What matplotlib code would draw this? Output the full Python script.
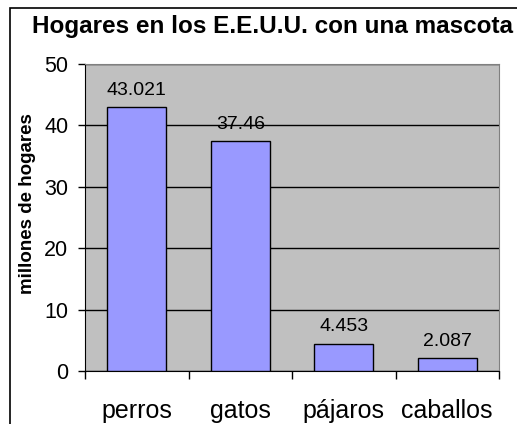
import matplotlib.pyplot as plt
from matplotlib.patches import Rectangle

plt.rcParams['font.family'] = ['Liberation Sans', 'DejaVu Sans']

# Datos
categorias = ['perros', 'gatos', 'pájaros', 'caballos']
hogares = [43.021, 37.46, 4.453, 2.087]
etiquetas = ['43.021', '37.46', '4.453', '2.087']
y_ticks = [0, 10, 20, 30, 40, 50]

fig = plt.figure(figsize=(5.17, 4.24), dpi=100)
ax = fig.add_axes([85 / 517, 53 / 424, 414 / 517, 307 / 424])

# Marco exterior
fig.patches.append(Rectangle((10 / 517, -0.1), 1.2, (424 - 8) / 424 + 0.1,
                             transform=fig.transFigure, fill=False,
                             edgecolor='black', linewidth=1.2))

ax.set_facecolor('#C0C0C0')
ax.set_axisbelow(True)
ax.yaxis.grid(True, color='black', linewidth=1)

x = range(len(categorias))
ax.bar(x, hogares, width=0.57, color='#9999FF', edgecolor='black',
       linewidth=1, zorder=3)

for xi, v, t in zip(x, hogares, etiquetas):
    ax.annotate(t, (xi, v), xytext=(0, 6), textcoords='offset points',
                ha='center', va='bottom', fontsize=14)

ax.set_xlim(-0.5, len(categorias) - 0.5)
ax.set_ylim(0, 50)
ax.set_yticks(y_ticks)
ax.set_xticks(list(x))
ax.set_xticklabels(categorias, fontsize=18)
ax.set_xticks([i - 0.5 for i in range(len(categorias) + 1)], minor=True)
ax.tick_params(axis='x', which='major', length=0, pad=20)
ax.tick_params(axis='x', which='minor', length=6, width=1, direction='out')
ax.tick_params(axis='y', length=5, width=1, direction='out', pad=7,
               labelsize=15.5)

for s in ['top', 'right']:
    ax.spines[s].set_color('#808080')
for s in ['left', 'bottom']:
    ax.spines[s].set_color('black')

ax.set_ylabel('millones de hogares', fontsize=13.5, fontweight='bold',
              va='center')
ax.yaxis.set_label_coords(-57 / 414, 0.547)

fig.text(272 / 517, 1 - 27 / 424, 'Hogares en los E.E.U.U. con una mascota',
         ha='center', va='center', fontsize=17.5, fontweight='bold')

fig.savefig('out.png', dpi=100)
